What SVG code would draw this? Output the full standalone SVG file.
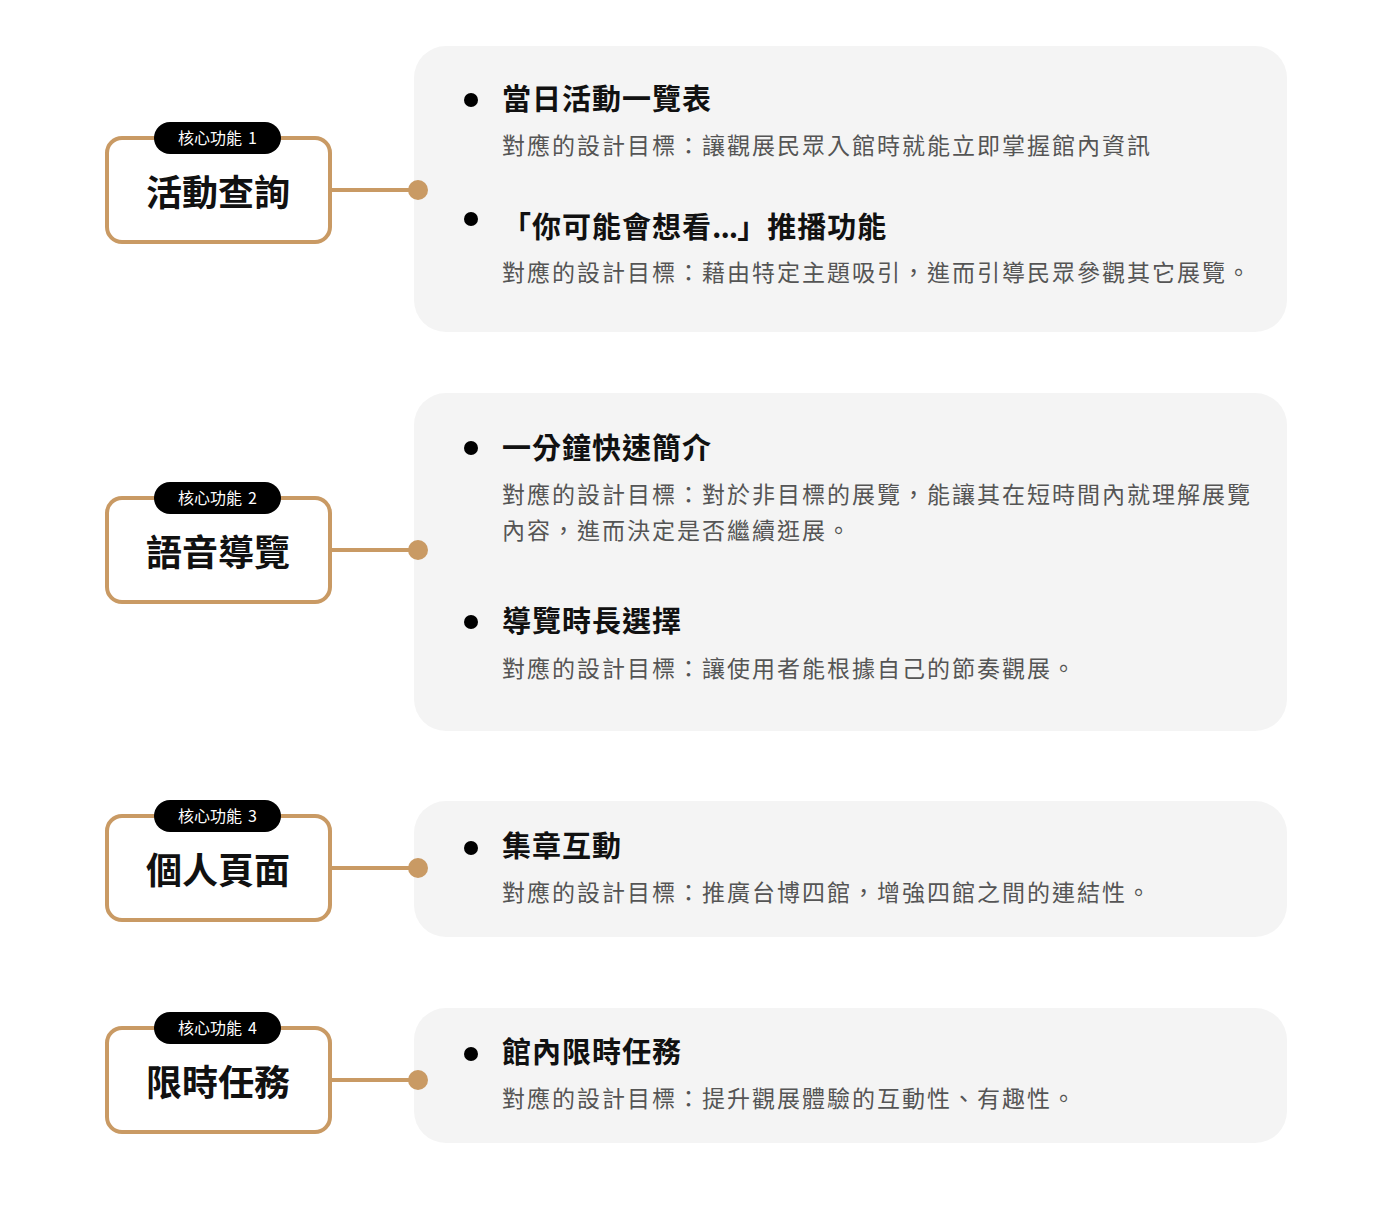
<svg xmlns="http://www.w3.org/2000/svg" width="1400" height="1215" viewBox="0 0 1400 1215">
  <style>
    .panel { fill: #f4f4f4; }
    .box { fill: #ffffff; stroke: #c99a64; stroke-width: 4; }
    .pill { fill: #000000; }
    .pill-text { fill: #ffffff; font-family: "Noto Sans CJK TC", "Noto Sans", sans-serif; font-size: 16px; font-weight: 400; text-anchor: middle; }
    .node-title { fill: #111111; font-family: "Noto Sans CJK TC", "Noto Sans", sans-serif; font-size: 36px; font-weight: 700; text-anchor: middle; }
    .item-title { fill: #111111; font-family: "Noto Sans CJK TC", "Noto Sans", sans-serif; font-size: 29px; font-weight: 700; letter-spacing: 1px; }
    .item-desc { fill: #555555; font-family: "Noto Sans CJK TC", "Noto Sans", sans-serif; font-size: 23px; font-weight: 400; letter-spacing: 2px; }
    .bullet { fill: #000000; }
    .link { stroke: #c99a64; stroke-width: 4; fill: none; }
    .dot { fill: #c99a64; }
  </style>

  <rect width="1400" height="1215" fill="#ffffff"/>

  <!-- detail panels -->
  <g id="panel-1">
    <rect class="panel" x="414" y="46" width="873" height="286" rx="32"/>
    <circle class="bullet" cx="471" cy="100" r="7"/>
    <text class="item-title" x="502" y="110">當日活動一覽表</text>
    <text class="item-desc" x="502" y="154">對應的設計目標：讓觀展民眾入館時就能立即掌握館內資訊</text>
    <circle class="bullet" cx="471" cy="219" r="7"/>
    <text class="item-title" x="502" y="238">「你可能會想看<tspan letter-spacing="-1">...</tspan>」推播功能</text>
    <text class="item-desc" x="502" y="281">對應的設計目標：藉由特定主題吸引，進而引導民眾參觀其它展覽。</text>
  </g>

  <g id="panel-2">
    <rect class="panel" x="414" y="393" width="873" height="338" rx="32"/>
    <circle class="bullet" cx="471" cy="448" r="7"/>
    <text class="item-title" x="502" y="459">一分鐘快速簡介</text>
    <text class="item-desc" x="502" y="503">對應的設計目標：對於非目標的展覽，能讓其在短時間內就理解展覽</text>
    <text class="item-desc" x="502" y="539">內容，進而決定是否繼續逛展。</text>
    <circle class="bullet" cx="471" cy="622" r="7"/>
    <text class="item-title" x="502" y="632">導覽時長選擇</text>
    <text class="item-desc" x="502" y="677">對應的設計目標：讓使用者能根據自己的節奏觀展。</text>
  </g>

  <g id="panel-3">
    <rect class="panel" x="414" y="801" width="873" height="136" rx="32"/>
    <circle class="bullet" cx="471" cy="848" r="7"/>
    <text class="item-title" x="502" y="857">集章互動</text>
    <text class="item-desc" x="502" y="901">對應的設計目標：推廣台博四館，增強四館之間的連結性。</text>
  </g>

  <g id="panel-4">
    <rect class="panel" x="414" y="1008" width="873" height="135" rx="32"/>
    <circle class="bullet" cx="471" cy="1054" r="7"/>
    <text class="item-title" x="502" y="1063">館內限時任務</text>
    <text class="item-desc" x="502" y="1107">對應的設計目標：提升觀展體驗的互動性、有趣性。</text>
  </g>

  <!-- connectors from each feature box to its panel -->
  <g id="connectors">
    <line class="link" x1="330" y1="190" x2="418" y2="190"/>
    <circle class="dot" cx="418" cy="190" r="10"/>
    <line class="link" x1="330" y1="550" x2="418" y2="550"/>
    <circle class="dot" cx="418" cy="550" r="10"/>
    <line class="link" x1="330" y1="868" x2="418" y2="868"/>
    <circle class="dot" cx="418" cy="868" r="10"/>
    <line class="link" x1="330" y1="1080" x2="418" y2="1080"/>
    <circle class="dot" cx="418" cy="1080" r="10"/>
  </g>

  <!-- feature boxes -->
  <g id="feature-1">
    <rect class="box" x="107" y="138" width="223" height="104" rx="15"/>
    <rect class="pill" x="154" y="122" width="127" height="32" rx="16"/>
    <text class="pill-text" x="217.5" y="144">核心功能<tspan dx="6">1</tspan></text>
    <text class="node-title" x="218" y="206">活動查詢</text>
  </g>

  <g id="feature-2">
    <rect class="box" x="107" y="498" width="223" height="104" rx="15"/>
    <rect class="pill" x="154" y="482" width="127" height="32" rx="16"/>
    <text class="pill-text" x="217.5" y="504">核心功能<tspan dx="6">2</tspan></text>
    <text class="node-title" x="218" y="566">語音導覽</text>
  </g>

  <g id="feature-3">
    <rect class="box" x="107" y="816" width="223" height="104" rx="15"/>
    <rect class="pill" x="154" y="800" width="127" height="32" rx="16"/>
    <text class="pill-text" x="217.5" y="822">核心功能<tspan dx="6">3</tspan></text>
    <text class="node-title" x="218" y="884">個人頁面</text>
  </g>

  <g id="feature-4">
    <rect class="box" x="107" y="1028" width="223" height="104" rx="15"/>
    <rect class="pill" x="154" y="1012" width="127" height="32" rx="16"/>
    <text class="pill-text" x="217.5" y="1034">核心功能<tspan dx="6">4</tspan></text>
    <text class="node-title" x="218" y="1096">限時任務</text>
  </g>
</svg>
